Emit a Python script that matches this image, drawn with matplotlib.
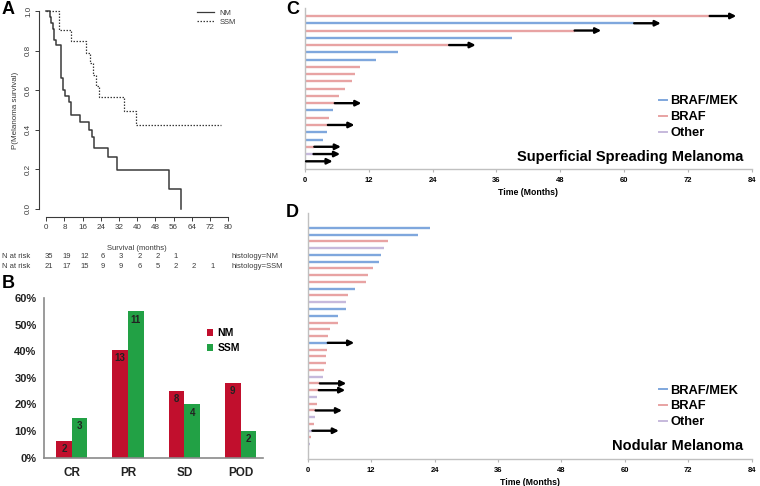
import numpy as np
import matplotlib
matplotlib.use('Agg')
import matplotlib.pyplot as plt
from matplotlib.lines import Line2D
from matplotlib.transforms import blended_transform_factory

plt.rcParams['font.family'] = ['Liberation Sans', 'DejaVu Sans']

# ---- A: Kaplan-Meier, melanoma survival by histology
nm_time = [0, 1.8, 2.2, 2.8, 3.2, 4.4, 6.3, 7.2, 8.4, 10.2, 10.9, 15, 19, 20.1, 21.2, 27.1, 31.1, 54, 59.2]
nm_surv = [1, 0.97, 0.94, 0.91, 0.855, 0.83, 0.66, 0.60, 0.57, 0.54, 0.475, 0.44, 0.40, 0.365, 0.31, 0.264, 0.197, 0.099, 0]
ssm_time = [0, 5.8, 11.1, 17.7, 19.3, 20.5, 22.0, 23.4, 34.4, 39.6, 76.8]
ssm_surv = [1, 0.905, 0.848, 0.79, 0.736, 0.677, 0.62, 0.564, 0.495, 0.424, 0.424]
risk_times = [0, 8, 16, 24, 32, 40, 48, 56, 64, 72]
nm_risk = [35, 19, 12, 6, 3, 2, 2, 1]
ssm_risk = [21, 17, 15, 9, 9, 6, 5, 2, 2, 1]

# ---- B: best response
resp_cats = ['CR', 'PR', 'SD', 'POD']
nm_counts = [2, 13, 8, 9]
ssm_counts = [3, 11, 4, 2]

# ---- C: swimmer plot, superficial spreading melanoma
ssm_months = [76.1, 61.9, 50.7, 39.0, 27.1, 17.4, 13.3, 10.3, 9.4, 8.8, 7.6, 6.3, 5.6, 5.3,
              4.6, 4.3, 4.2, 3.3, 1.75, 1.6, 0.2]
ssm_tx = ['BRAF', 'BRAF/MEK', 'BRAF', 'BRAF/MEK', 'BRAF', 'BRAF/MEK', 'BRAF/MEK', 'BRAF', 'BRAF',
          'BRAF', 'BRAF', 'BRAF', 'BRAF', 'BRAF/MEK', 'BRAF', 'BRAF', 'BRAF/MEK', 'BRAF/MEK',
          'BRAF', 'Other', 'BRAF/MEK']
ssm_ongoing = [1, 1, 1, 0, 1, 0, 0, 0, 0, 0, 0, 0, 1, 0, 0, 1, 0, 0, 1, 1, 1]

# ---- D: swimmer plot, nodular melanoma
nm_months = [23.1, 20.9, 15.1, 14.4, 13.9, 13.5, 12.4, 11.5, 11.0, 8.9, 7.6, 7.2, 7.2, 5.7,
             5.7, 4.3, 3.8, 3.8, 3.6, 3.5, 3.4, 3.1, 2.95, 2.3, 2.1, 1.8, 1.8, 1.5, 1.4, 1.2,
             0.9, 0.6, 0.45, 0.3]
nm_tx = ['BRAF/MEK', 'BRAF/MEK', 'BRAF', 'Other', 'BRAF/MEK', 'BRAF/MEK', 'BRAF', 'BRAF', 'BRAF',
         'BRAF/MEK', 'BRAF', 'Other', 'BRAF/MEK', 'BRAF/MEK', 'BRAF', 'BRAF', 'BRAF', 'BRAF/MEK',
         'BRAF', 'BRAF', 'BRAF', 'BRAF', 'Other', 'BRAF', 'BRAF', 'Other', 'BRAF', 'BRAF',
         'Other', 'BRAF', 'Other', 'BRAF', 'Other', 'BRAF']
nm_ongoing = [0] * 17 + [1] + [0] * 5 + [1, 1] + [0, 0] + [1] + [0, 0] + [1] + [0, 0, 0]

tx_colors = {'BRAF/MEK': '#7FA7DD', 'BRAF': '#E8A3A3', 'Other': '#C6B9DC'}
arrow_len = 5

W, H = 760, 486
fig = plt.figure(figsize=(7.6, 4.86), dpi=100)


def fx(px):
    return px / W


def fy(py):
    return 1 - py / H


def box(l, t, r, b):
    return [fx(l), fy(b), (r - l) / W, (b - t) / H]


km_grey = '#3a3a3a'
# ---------------- A
axA = fig.add_axes(box(39, 3.1, 235.3, 216.9))
axA.step(nm_time, nm_surv, where='post', color=km_grey, lw=1.1)
axA.step(ssm_time, ssm_surv, where='post', color=km_grey, lw=0.9, ls=(0, (1.2, 1.2)))
axA.set_xlim(-3.2, 83.2)
axA.set_ylim(-0.04, 1.04)
axA.set_xticks(np.arange(0, 81, 8))
axA.set_yticks([0, 0.2, 0.4, 0.6, 0.8, 1.0])
axA.set_yticklabels(['0.0', '0.2', '0.4', '0.6', '0.8', '1.0'], rotation=90, va='center')
for s in ['top', 'right']:
    axA.spines[s].set_visible(False)
axA.spines['left'].set_bounds(0, 1)
axA.spines['bottom'].set_bounds(0, 80)
for s in ['left', 'bottom']:
    axA.spines[s].set_color(km_grey)
    axA.spines[s].set_linewidth(0.8)
axA.tick_params(labelsize=5.8, colors=km_grey, length=3, width=0.7, pad=2)
axA.set_ylabel('P(Melanoma survival)', fontsize=5.8, color=km_grey, labelpad=4)
axA.legend(handles=[Line2D([], [], color=km_grey, lw=0.9),
                    Line2D([], [], color=km_grey, lw=0.9, ls=(0, (1.2, 1.2)))],
           labels=['NM', 'SSM'], loc='upper left', bbox_to_anchor=(fx(193), fy(6)),
           bbox_transform=fig.transFigure, frameon=False, fontsize=5.5,
           handlelength=2.2, handletextpad=0.8, labelspacing=0.15, borderpad=0,
           labelcolor=km_grey)

fig.text(fx(137), fy(248), 'Survival (months)', fontsize=5.5, color=km_grey, ha='center', va='center')
tr = blended_transform_factory(axA.transData, fig.transFigure)
for row_y, risk, lab in [(257, nm_risk, 'histology=NM'), (267, ssm_risk, 'histology=SSM')]:
    fig.text(fx(2), fy(row_y), 'N at risk', fontsize=5.5, color=km_grey, va='center')
    for t, n in zip(risk_times, risk):
        axA.text(t + 1, fy(row_y), str(n), transform=tr, fontsize=5.5, color=km_grey,
                 ha='center', va='center')
    fig.text(fx(232), fy(row_y), lab, fontsize=5.5, color=km_grey, va='center')

# ---------------- B
red, green = '#C10F2D', '#22A145'
axB = fig.add_axes(box(43.55, 298, 263.2, 457.7))
x = np.arange(len(resp_cats))
w = 0.278
nm_pct = np.array(nm_counts) / sum(nm_counts)
ssm_pct = np.array(ssm_counts) / sum(ssm_counts)
axB.bar(x - w / 2, nm_pct, w, color=red, label='NM')
axB.bar(x + w / 2, ssm_pct, w, color=green, label='SSM')
for xi, p, n in zip(x - w / 2, nm_pct, nm_counts):
    axB.text(xi, p - 0.012, str(n), ha='center', va='top', fontsize=7, fontweight='bold', color='#222')
for xi, p, n in zip(x + w / 2, ssm_pct, ssm_counts):
    axB.text(xi, p - 0.012, str(n), ha='center', va='top', fontsize=7, fontweight='bold', color='#222')
axB.set_xlim(-0.5, 3.4)
axB.set_ylim(0, 0.6)
axB.set_xticks(x)
axB.set_xticklabels(resp_cats, fontsize=8.5, fontweight='bold')
axB.set_yticks(np.arange(0, 0.61, 0.1))
axB.set_yticklabels([f'{v}%' for v in range(0, 61, 10)], fontsize=8, fontweight='bold')
axB.tick_params(axis='both', length=0, pad=5, colors='#222')
axB.tick_params(axis='x', pad=7)
for s in ['top', 'right']:
    axB.spines[s].set_visible(False)
for s in ['left', 'bottom']:
    axB.spines[s].set_color('#8a8a8a')
    axB.spines[s].set_linewidth(1.2)
legB = axB.legend(loc='upper left', bbox_to_anchor=(fx(202), fy(323)), bbox_transform=fig.transFigure,
                  frameon=False, handlelength=0.6, handleheight=0.6, handletextpad=0.4,
                  labelspacing=0.5, borderpad=0, prop={'size': 7.5, 'weight': 'bold'})

fig.text(fx(2), fy(283), 'B', fontsize=13, fontweight='bold', va='center')
fig.text(fx(2), fy(10), 'A', fontsize=13, fontweight='bold', va='center')


# ---------------- C / D
def swimmer(ax, months, tx, ongoing, title, title_y, leg_top, ylim):
    for i, (m, t, o) in enumerate(zip(months, tx, ongoing)):
        ax.hlines(i, 0, m, color=tx_colors[t], lw=1.7)
        if o:
            ax.annotate('', xy=(m + arrow_len, i), xytext=(m, i),
                        arrowprops=dict(arrowstyle='-|>', color='black', lw=1.7,
                                        mutation_scale=8, shrinkA=0, shrinkB=0))
    ax.set_xlim(0, 84)
    ax.set_ylim(*ylim)
    ax.set_yticks([])
    ax.set_xticks(np.arange(0, 85, 12))
    ax.tick_params(axis='x', labelsize=5.5, length=2.5, color='#b5b5b5', pad=3)
    for lab in ax.get_xticklabels():
        lab.set_fontweight('bold')
    for s in ['top', 'right']:
        ax.spines[s].set_visible(False)
    for s in ['left', 'bottom']:
        ax.spines[s].set_color('#c0c0c0')
        ax.spines[s].set_linewidth(1.0)
    ax.set_xlabel('Time (Months)', fontsize=6.3, fontweight='bold', labelpad=3)
    handles = [Line2D([], [], color=tx_colors[k], lw=1.4) for k in ['BRAF/MEK', 'BRAF', 'Other']]
    ax.legend(handles, ['BRAF/MEK', 'BRAF', 'Other'], loc='upper left',
              bbox_to_anchor=(fx(653), fy(leg_top)), bbox_transform=fig.transFigure,
              frameon=False, handlelength=0.6, handletextpad=0.25, labelspacing=0.3,
              borderpad=0, prop={'size': 9.3, 'weight': 'bold'})
    fig.text(fx(743), fy(title_y), title, fontsize=10.5, fontweight='bold', ha='right', va='center')


axC = fig.add_axes(box(305, 8, 751.7, 169))
swimmer(axC, ssm_months, ssm_tx, ssm_ongoing, 'Superficial Spreading Melanoma', 157, 89,
        (len(ssm_months) - 1 + 1.06, -1.1))
axD = fig.add_axes(box(307.7, 213, 751.7, 459))
swimmer(axD, nm_months, nm_tx, nm_ongoing, 'Nodular Melanoma', 445.7, 378,
        (len(nm_months) - 1 + 1.18, -2.2))

fig.text(fx(286), fy(10), 'C', fontsize=13, fontweight='bold', va='center')
fig.text(fx(286), fy(212), 'D', fontsize=13, fontweight='bold', va='center')

fig.savefig('out.png', dpi=100)
